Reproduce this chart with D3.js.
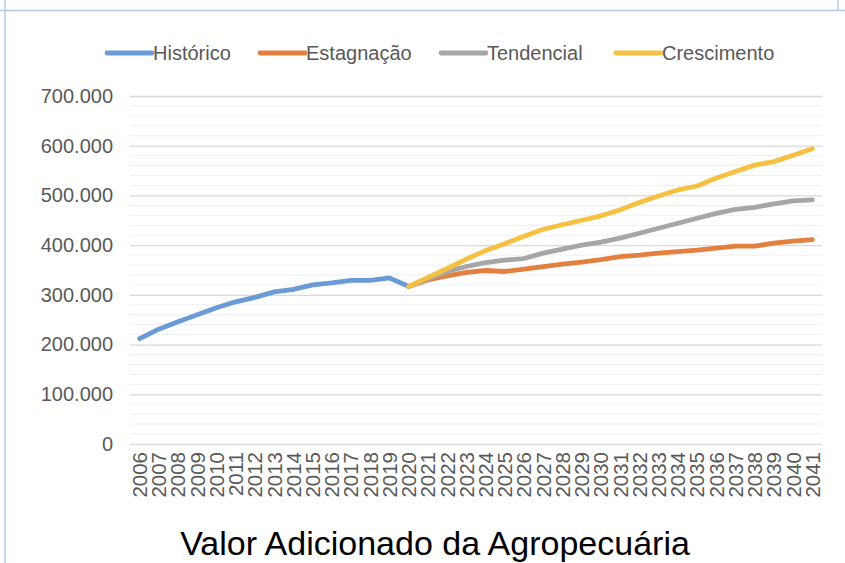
<!DOCTYPE html>
<html><head><meta charset="utf-8">
<script src="https://cdn.jsdelivr.net/npm/d3@7"></script>
<style>html,body{margin:0;padding:0;background:#fff;}svg{display:block;}</style>
</head><body>
<script>
const years = d3.range(2006, 2042).map(String);
const historicoYears = d3.range(2006, 2021).map(String);
const projYears = d3.range(2020, 2042).map(String);
const historico = [212000, 231000, 246000, 260000, 274000, 286000, 295000, 306000, 311000, 320000, 324000, 329000, 329000, 334000, 317000];
const estagnacao = [317000, 330000, 338000, 345000, 349000, 347000, 352000, 357000, 362000, 366000, 371000, 377000, 380000, 384000, 387000, 390000, 394000, 398000, 398000, 404000, 408000, 411000];
const tendencial = [317000, 332000, 347000, 357000, 365000, 370000, 373000, 384000, 392000, 400000, 406000, 414000, 424000, 434000, 444000, 454000, 464000, 472000, 476000, 483000, 489000, 491000];
const crescimento = [317000, 335000, 353000, 372000, 389000, 403000, 418000, 432000, 441000, 450000, 459000, 471000, 486000, 499000, 511000, 519000, 535000, 548000, 561000, 568000, 581000, 594000];
const seriesNames = ["Histórico", "Estagnação", "Tendencial", "Crescimento"];
const seriesColors = ["#6a9bd6", "#e3803f", "#a6a6a6", "#f6c143"];
const yTicks = [0, 100000, 200000, 300000, 400000, 500000, 600000, 700000];
const title = "Valor Adicionado da Agropecuária";

const W = 845, H = 563;
const svg = d3.select("body").append("svg").attr("width", W).attr("height", H);
const font = "'Liberation Sans', Arial, Helvetica, sans-serif";

// frame lines
svg.append("line").attr("x1", 0).attr("x2", W).attr("y1", 10.5).attr("y2", 10.5).attr("stroke", "#b7c8e8").attr("stroke-width", 1.5);
svg.append("line").attr("x1", 5).attr("x2", 5).attr("y1", 0).attr("y2", H).attr("stroke", "#b7c8e8").attr("stroke-width", 1.5);
svg.append("line").attr("x1", 838).attr("x2", 838).attr("y1", 0).attr("y2", 10).attr("stroke", "#b7c8e8").attr("stroke-width", 1.5);

const x = d3.scaleBand().domain(years).range([130, 822]);
const xc = d => x(d) + x.bandwidth() / 2;
const y = d3.scaleLinear().domain([0, 700000]).range([444, 96]);

// minor gridlines
const minor = d3.range(0, 700001, 20000).filter(v => v % 100000 !== 0);
svg.append("g").selectAll("line").data(minor).join("line")
  .attr("x1", 130).attr("x2", 822).attr("y1", d => y(d)).attr("y2", d => y(d))
  .attr("stroke", "#efefef").attr("stroke-width", 1);

// y axis
const fmt = v => v === 0 ? "0" : d3.format(",")(v).replace(/,/g, ".");
const yAxis = d3.axisLeft(y).tickValues(yTicks).tickFormat(fmt).tickSize(-(822 - 130)).tickPadding(17);
const gy = svg.append("g").attr("transform", "translate(130,0)").call(yAxis);
gy.select(".domain").remove();
gy.selectAll(".tick line").attr("stroke", "#d9d9d9").attr("stroke-width", 1.3);
gy.selectAll(".tick text").attr("fill", "#595959").attr("font-family", font).attr("font-size", 20);

// x axis
const xAxis = d3.axisBottom(x).tickSize(0).tickPadding(0);
const gx = svg.append("g").attr("transform", "translate(0,444)").call(xAxis);
gx.select(".domain").remove();
gx.selectAll(".tick text")
  .attr("fill", "#595959").attr("font-family", font).attr("font-size", 20.5)
  .attr("transform", "rotate(-90)")
  .attr("text-anchor", "end").attr("x", -8).attr("y", 0).attr("dy", "0.36em");

// lines
const line = d3.line().x(d => xc(d[0])).y(d => y(d[1]));
const data = [
  historicoYears.map((yr, i) => [yr, historico[i]]),
  projYears.map((yr, i) => [yr, estagnacao[i]]),
  projYears.map((yr, i) => [yr, tendencial[i]]),
  projYears.map((yr, i) => [yr, crescimento[i]])
];
svg.append("g").selectAll("path").data(data).join("path")
  .attr("d", line).attr("fill", "none")
  .attr("stroke", (d, i) => seriesColors[i])
  .attr("stroke-width", 4.8).attr("stroke-linecap", "round").attr("stroke-linejoin", "round");

// legend
const legendX = [107, 260, 441, 616];
const lg = svg.append("g").selectAll("g").data(seriesNames).join("g")
  .attr("transform", (d, i) => `translate(${legendX[i]},53)`);
lg.append("line").attr("x1", 0).attr("x2", 45).attr("y1", 0).attr("y2", 0)
  .attr("stroke", (d, i) => seriesColors[i]).attr("stroke-width", 4.8).attr("stroke-linecap", "round");
lg.append("text").attr("x", 46).attr("y", 0).attr("dy", "0.35em")
  .attr("fill", "#595959").attr("font-family", font).attr("font-size", 20).text(d => d);

// title
svg.append("text").attr("x", 435).attr("y", 555).attr("text-anchor", "middle")
  .attr("fill", "#000").attr("font-family", font).attr("font-size", 34).text(title);
</script>
</body></html>
